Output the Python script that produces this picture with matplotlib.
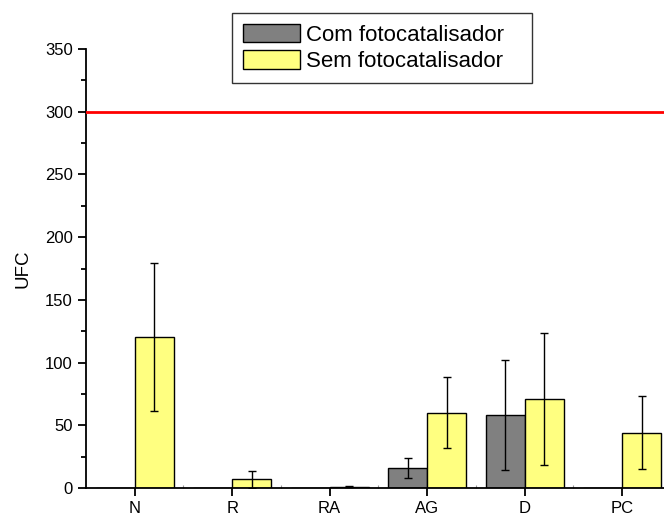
import matplotlib
matplotlib.use('agg')
import matplotlib.pyplot as plt
from matplotlib.ticker import MultipleLocator
import numpy as np

plt.rcParams['font.family'] = ['Liberation Sans', 'DejaVu Sans']

categories = ['N', 'R', 'RA', 'AG', 'D', 'PC']
com_foto = [0, 0, 0.3, 16, 58, 0]
com_foto_err = [0, 0, 0, 7.7, 44, 0]
sem_foto = [120, 7, 1, 60, 71, 44]
sem_foto_err = [59, 6.7, 0.5, 28.5, 52.5, 29]
limite = 300

fig = plt.figure(figsize=(6.64, 5.16), dpi=100)
ax = fig.add_axes([0.1295, 0.0543, 0.8705, 0.8507])

x = np.arange(len(categories))
w = 0.4

ax.bar(x - w / 2, com_foto, w, color='#808080', edgecolor='black', linewidth=1,
       label='Com fotocatalisador', zorder=2)
ax.bar(x + w / 2, sem_foto, w, color='#ffff80', edgecolor='black', linewidth=1,
       label='Sem fotocatalisador', zorder=2)

# error bars only where there is something to show
for xs, vals, errs in [(x - w / 2, com_foto, com_foto_err), (x + w / 2, sem_foto, sem_foto_err)]:
    idx = [i for i in range(len(errs)) if errs[i] > 0]
    ax.errorbar(xs[idx], np.array(vals)[idx], yerr=np.array(errs)[idx], fmt='none',
                ecolor='black', elinewidth=1, capsize=3.2, capthick=1, zorder=3)

ax.axhline(limite, color='red', linewidth=2, zorder=4)

ax.set_xlim(-0.5, 5.43)
ax.set_ylim(0, 350)
ax.set_xticks(x)
ax.set_xticklabels(categories)
ax.set_xticks(x[:-1] + 0.5, minor=True)
ax.yaxis.set_major_locator(MultipleLocator(50))
ax.yaxis.set_minor_locator(MultipleLocator(25))
ax.set_ylabel('UFC', fontsize=13.5, labelpad=10)

for s in ['top', 'right']:
    ax.spines[s].set_visible(False)
for s in ['left', 'bottom']:
    ax.spines[s].set_linewidth(1.3)
ax.tick_params(axis='both', which='major', direction='out', length=6, width=1.3, labelsize=12)
ax.tick_params(axis='y', which='minor', direction='out', length=3.5, width=1.3)
ax.tick_params(axis='x', which='minor', direction='in', length=2, width=0.8, color='#999999')

leg = fig.legend(loc='upper left', bbox_to_anchor=(0.349, 0.975, 0.452, 0.0), mode='expand',
                 borderaxespad=0, fontsize=16, frameon=True, fancybox=False, edgecolor='black',
                 handlelength=2.55, handleheight=0.9, handletextpad=0.3,
                 labelspacing=0.2, borderpad=0.5)
leg.get_frame().set_linewidth(1)

plt.savefig('out.png', dpi=100)
